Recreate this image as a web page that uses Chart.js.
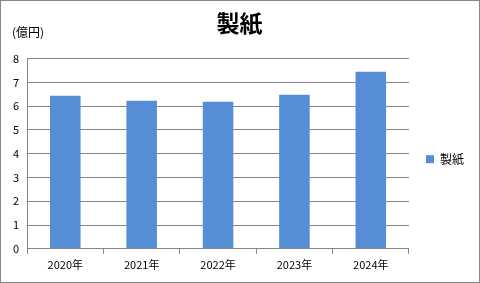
<!DOCTYPE html>
<html>
<head>
<meta charset="utf-8">
<script src="https://cdn.jsdelivr.net/npm/chart.js@4/dist/chart.umd.min.js"></script>
<style>
  body { margin: 0; background: #fff; }
  #wrap { position: relative; width: 480px; height: 283px; box-sizing: border-box; border: 1px solid #868686; }
  #unit { position: absolute; left: 11px; top: 22px; font: 12px "Noto Sans CJK JP", sans-serif; color: #000; }
</style>
</head>
<body>
<div id="wrap">
  <canvas id="c" width="478" height="281"></canvas>
  <div id="unit">(億円)</div>
</div>
<script>
// values
const years = ['2020年', '2021年', '2022年', '2023年', '2024年'];
const paper = [6.44, 6.23, 6.19, 6.48, 7.45];
const seriesName = '製紙';
const chartTitle = '製紙';

const fontFamily = '"Noto Sans CJK JP", "DejaVu Sans", sans-serif';
Chart.defaults.font.family = fontFamily;
Chart.defaults.color = '#000';

const chartData = {
    labels: years,
    datasets: [{
        label: seriesName,
        data: paper,
        backgroundColor: '#558ED5',
        barPercentage: 0.4,
        categoryPercentage: 1
    }]
};

const config = {
    type: 'bar',
    data: chartData,
    options: {
        responsive: false,
        animation: false,
        layout: {
            padding: { left: 4, right: 5, top: 0, bottom: 7 }
        },
        plugins: {
            title: {
                display: true,
                text: chartTitle,
                font: { size: 23, weight: 'bold' },
                color: '#000',
                padding: { top: 8, bottom: 22 }
            },
            legend: {
                position: 'right',
                // empty title only pushes the item down a little
                title: {
                    display: true,
                    text: ' ',
                    padding: { top: 28, bottom: 0 }
                },
                labels: {
                    boxWidth: 8,
                    boxHeight: 8,
                    padding: 17,
                    font: { size: 12 }
                }
            },
            tooltip: { enabled: false }
        },
        scales: {
            x: {
                grid: {
                    offset: true,
                    drawOnChartArea: false,
                    drawTicks: true,
                    tickLength: 5,
                    color: '#868686'
                },
                border: { color: '#868686' },
                ticks: { font: { size: 11 }, padding: 4 }
            },
            y: {
                min: 0,
                max: 8,
                ticks: { stepSize: 1, font: { size: 11 }, padding: 8 },
                grid: { color: '#868686', drawTicks: false },
                border: { color: '#868686' }
            }
        }
    }
};

const myChart = new Chart(document.getElementById('c'), config);
</script>
</body>
</html>
